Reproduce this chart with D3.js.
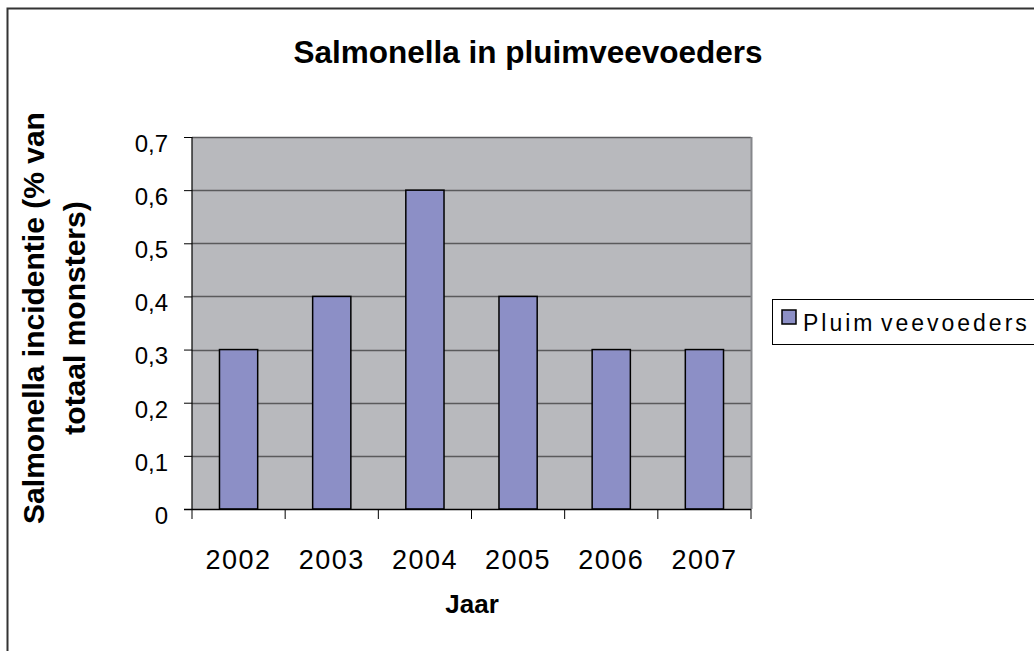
<!DOCTYPE html>
<html>
<head>
<meta charset="utf-8">
<script src="https://cdnjs.cloudflare.com/ajax/libs/d3/7.8.5/d3.min.js"></script>
<style>
body { margin: 0; background: #fff; }
svg text { font-family: Arial, "Liberation Sans", sans-serif; }
</style>
</head>
<body>
<div id="vis"></div>
<script>
/* Data */
var years = ["2002", "2003", "2004", "2005", "2006", "2007"];
var values = [0.3, 0.4, 0.6, 0.4, 0.3, 0.3];
var yTicks = [0, 0.1, 0.2, 0.3, 0.4, 0.5, 0.6, 0.7];
var seriesName = "Pluim veevoeders";

/* Set up */
var width = 1034, height = 651;
var plot = { left: 192, right: 751, top: 137, bottom: 509 };

var svg = d3.select('#vis').append('svg').attr("width", width).attr("height", height);

// outer chart border (runs off the right / bottom edge)
svg.append('rect')
    .attr('x', 7.5).attr('y', 8.5)
    .attr('width', 1040).attr('height', 660)
    .attr('fill', '#fff').attr('stroke', '#333').attr('stroke-width', 2);

/* Scales */
var xScale = d3.scaleBand().domain(years).range([plot.left, plot.right]).padding(0);
var yScale = d3.scaleLinear().domain([0, 0.7]).range([plot.bottom, plot.top]);

// plot background
svg.append('rect')
    .attr('x', plot.left).attr('y', plot.top)
    .attr('width', plot.right - plot.left).attr('height', plot.bottom - plot.top)
    .attr('fill', '#b8b9bd');

// gridlines
svg.append('g').selectAll('line')
    .data(yTicks.slice(1))
    .enter().append('line')
    .attr('x1', plot.left).attr('x2', plot.right)
    .attr('y1', function (d) { return Math.round(yScale(d)) + 0.5; })
    .attr('y2', function (d) { return Math.round(yScale(d)) + 0.5; })
    .attr('stroke', '#5a5a5c').attr('stroke-width', 1.5);

// right edge of plot area
svg.append('line')
    .attr('x1', plot.right + 0.5).attr('x2', plot.right + 0.5)
    .attr('y1', plot.top).attr('y2', plot.bottom)
    .attr('stroke', '#86878b').attr('stroke-width', 2);

/* Bars */
var barW = xScale.bandwidth() * 0.41;
svg.append('g').selectAll('rect')
    .data(values)
    .enter().append('rect')
    .attr('x', function (d, i) { return xScale(years[i]) + (xScale.bandwidth() - barW) / 2; })
    .attr('y', function (d) { return yScale(d); })
    .attr('width', barW)
    .attr('height', function (d) { return plot.bottom - yScale(d); })
    .attr('fill', '#8c8fc6')
    .attr('stroke', '#000').attr('stroke-width', 1.5);

/* Axes */
var yAxis = d3.axisLeft(yScale).tickValues(yTicks).tickSize(8).tickPadding(16)
    .tickFormat(function (d) { return d3.format(".1f")(d).replace(".", ",").replace(/^0,0$/, "0"); });
var yAxisDraw = svg.append('g')
    .attr('transform', 'translate(' + plot.left + ',0)')
    .call(yAxis);
yAxisDraw.select('.domain').attr('stroke', '#000').attr('stroke-width', 1.2).attr('d', 'M0,' + plot.top + 'V' + plot.bottom);
yAxisDraw.selectAll('.tick line').attr('stroke', '#000');
yAxisDraw.selectAll('.tick text')
    .attr('font-size', 24).attr('fill', '#000')
    .attr('font-family', 'Arial, "Liberation Sans", sans-serif')
    .attr('dy', '0.6em');

var xBoundaries = years.map(function (y) { return xScale(y); }).concat([plot.right]);
svg.append('line')
    .attr('x1', plot.left - 8).attr('x2', plot.right)
    .attr('y1', plot.bottom + 0.5).attr('y2', plot.bottom + 0.5)
    .attr('stroke', '#000').attr('stroke-width', 1.5);
svg.append('g').selectAll('line')
    .data(xBoundaries)
    .enter().append('line')
    .attr('x1', function (d) { return d; }).attr('x2', function (d) { return d; })
    .attr('y1', plot.bottom).attr('y2', plot.bottom + 10)
    .attr('stroke', '#000');

svg.append('g').selectAll('text')
    .data(years)
    .enter().append('text')
    .attr('x', function (d) { return xScale(d) + xScale.bandwidth() / 2; })
    .attr('y', 569)
    .attr('text-anchor', 'middle')
    .attr('font-size', 27)
    .attr('letter-spacing', 1.5)
    .text(function (d) { return d; });

/* Titles */
svg.append('text')
    .attr('x', 528).attr('y', 63)
    .attr('text-anchor', 'middle')
    .attr('font-size', 31.5).attr('font-weight', 'bold')
    .text('Salmonella in pluimveevoeders');

svg.append('text')
    .attr('x', 472).attr('y', 613)
    .attr('text-anchor', 'middle')
    .attr('font-size', 26).attr('font-weight', 'bold')
    .text('Jaar');

var yTitle = svg.append('text')
    .attr('transform', 'translate(44,318) rotate(-90)')
    .attr('text-anchor', 'middle')
    .attr('font-size', 30).attr('font-weight', 'bold');
yTitle.append('tspan').attr('x', 0).attr('dy', 0).text('Salmonella incidentie (% van');
yTitle.append('tspan').attr('x', 0).attr('dy', 41).text('totaal monsters)');

/* Legend */
var legend = svg.append('g').attr('class', 'legend');
legend.append('rect')
    .attr('x', 772.5).attr('y', 299.5)
    .attr('width', 300).attr('height', 45)
    .attr('fill', '#fff').attr('stroke', '#000').attr('stroke-width', 1);
legend.append('rect')
    .attr('x', 782).attr('y', 310)
    .attr('width', 14).attr('height', 14)
    .attr('fill', '#8c8fc6').attr('stroke', '#000').attr('stroke-width', 1.5);
legend.append('text')
    .attr('x', 803).attr('y', 331)
    .attr('font-size', 23).attr('letter-spacing', 3)
    .attr('word-spacing', -4)
    .text(seriesName);
</script>
</body>
</html>
